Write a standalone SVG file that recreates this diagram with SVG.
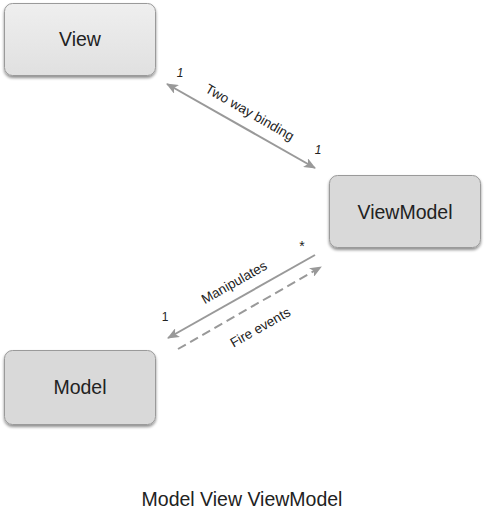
<svg xmlns="http://www.w3.org/2000/svg" width="485" height="512" viewBox="0 0 485 512">
<defs>
<linearGradient id="g1" x1="0" y1="0" x2="0" y2="1">
<stop offset="0" stop-color="#efefef"/>
<stop offset="1" stop-color="#e0e0e0"/>
</linearGradient>
<filter id="sh" x="-10%" y="-10%" width="120%" height="130%">
<feGaussianBlur in="SourceAlpha" stdDeviation="1.5"/>
<feOffset dx="0" dy="2" result="b"/>
<feComponentTransfer><feFuncA type="linear" slope="0.45"/></feComponentTransfer>
<feMerge><feMergeNode/><feMergeNode in="SourceGraphic"/></feMerge>
</filter>
<marker id="ah" viewBox="0 0 12 10" refX="11" refY="5" markerWidth="12" markerHeight="10" markerUnits="userSpaceOnUse" orient="auto-start-reverse">
<path d="M0,0 L12,5 L0,10 L3,5 Z" fill="#999"/>
</marker>
</defs>
<style>
.box{stroke:#9a9a9a;stroke-width:1;filter:url(#sh)}
.lbl{font-family:"Liberation Sans",Arial,sans-serif;font-size:19.5px;fill:#222;text-anchor:middle}
.edge{stroke:#999;stroke-width:2;fill:none}
.elbl{font-family:"Liberation Sans",Arial,sans-serif;font-size:13.5px;fill:#222;text-anchor:middle}
.card{font-family:"Liberation Sans",Arial,sans-serif;font-size:12px;fill:#222;text-anchor:middle}
</style>
<g id="view">
<rect class="box" x="4.5" y="3.5" width="151" height="72" rx="8" fill="url(#g1)"/>
<text class="lbl" x="80" y="46">View</text>
</g>
<g id="viewmodel">
<rect class="box" x="329.5" y="175.5" width="151" height="72" rx="8" fill="#d9d9d9"/>
<text class="lbl" x="405" y="219">ViewModel</text>
</g>
<g id="model">
<rect class="box" x="4.5" y="350.5" width="151" height="74" rx="8" fill="#d9d9d9"/>
<text class="lbl" x="80" y="394">Model</text>
</g>
<g id="connectors">
<line class="edge" x1="167" y1="84" x2="315" y2="168" marker-start="url(#ah)" marker-end="url(#ah)"/>
<text class="elbl" transform="translate(250,112) rotate(29.8)" y="5">Two way binding</text>
<text class="card" x="180" y="77" font-style="italic">1</text>
<text class="card" x="318" y="154" font-style="italic">1</text>
<line class="edge" x1="315" y1="255" x2="168" y2="338" marker-end="url(#ah)"/>
<text class="elbl" transform="translate(234,282) rotate(-29.5)" y="5">Manipulates</text>
<line class="edge" x1="178" y1="349" x2="321" y2="267" stroke-dasharray="9,5" marker-end="url(#ah)"/>
<text class="elbl" transform="translate(260,327) rotate(-29.5)" y="5">Fire events</text>
<text style="font-family:'Liberation Sans',Arial,sans-serif;font-size:14px;fill:#222;text-anchor:middle" x="302" y="251">*</text>
<text class="card" x="165" y="321">1</text>
</g>
<text x="242" y="506" font-family="Liberation Sans, Arial, sans-serif" font-size="19.5" fill="#222" text-anchor="middle">Model View ViewModel</text>
</svg>
